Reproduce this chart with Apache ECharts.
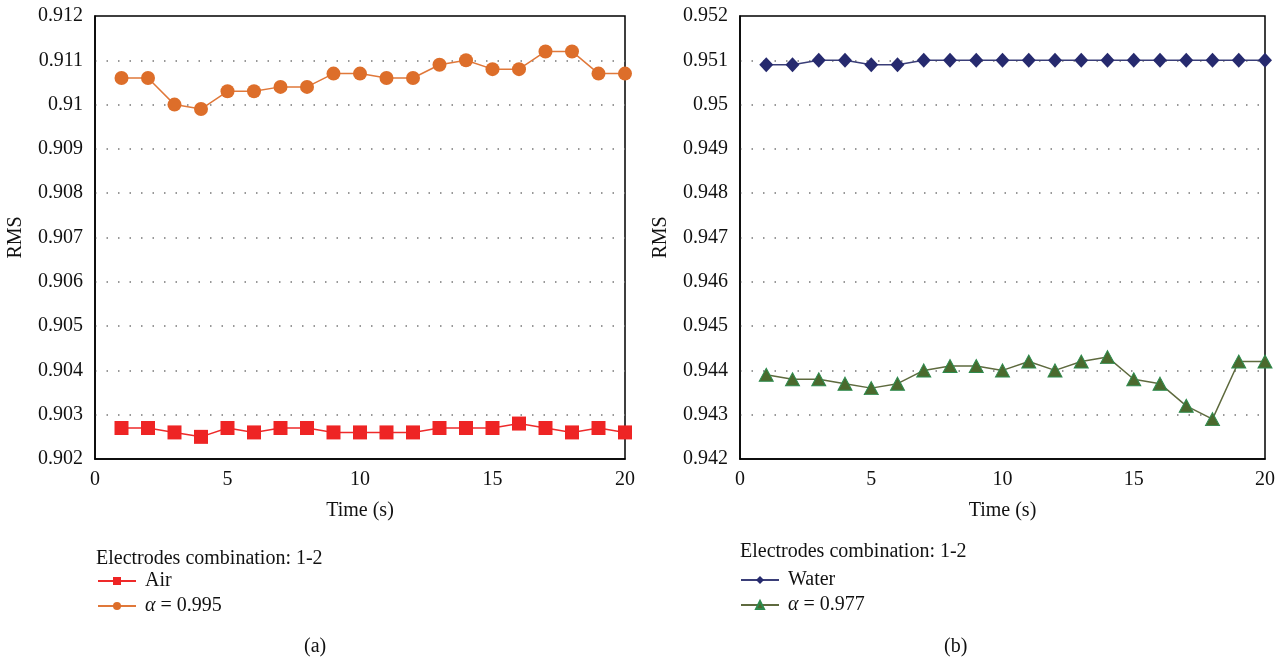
<!DOCTYPE html>
<html>
<head>
<meta charset="utf-8">
<script src="https://cdn.jsdelivr.net/npm/echarts@6/dist/echarts.min.js"></script>
<style>html,body{margin:0;padding:0;background:#fff}#c{width:1279px;height:663px}</style>
</head>
<body>
<div id="c"></div>
<script>
const time = [1,2,3,4,5,6,7,8,9,10,11,12,13,14,15,16,17,18,19,20];
const air = [0.9027,0.9027,0.9026,0.9025,0.9027,0.9026,0.9027,0.9027,0.9026,0.9026,0.9026,0.9026,0.9027,0.9027,0.9027,0.9028,0.9027,0.9026,0.9027,0.9026];
const alpha995 = [0.9106,0.9106,0.9100,0.9099,0.9103,0.9103,0.9104,0.9104,0.9107,0.9107,0.9106,0.9106,0.9109,0.9110,0.9108,0.9108,0.9112,0.9112,0.9107,0.9107];
const water = [0.9509,0.9509,0.9510,0.9510,0.9509,0.9509,0.9510,0.9510,0.9510,0.9510,0.9510,0.9510,0.9510,0.9510,0.9510,0.9510,0.9510,0.9510,0.9510,0.9510];
const alpha977 = [0.9439,0.9438,0.9438,0.9437,0.9436,0.9437,0.9440,0.9441,0.9441,0.9440,0.9442,0.9440,0.9442,0.9443,0.9438,0.9437,0.9432,0.9429,0.9442,0.9442];
const yRangeA = [0.902, 0.912];
const yRangeB = [0.942, 0.952];
const xRange = [0, 20];

const FONT = 'Liberation Serif';
const FS = 20;
const pair = (xs, ys) => xs.map((x, i) => [x, ys[i]]);

function xAxis(gi) {
  return {
    type: 'value', gridIndex: gi, min: xRange[0], max: xRange[1], interval: 5,
    name: 'Time (s)', nameLocation: 'middle', nameGap: 42,
    nameTextStyle: {fontFamily: FONT, fontSize: FS, color: '#111'},
    axisLine: {show: true, lineStyle: {color: '#000', width: 1.5}},
    axisTick: {show: false},
    axisLabel: {fontFamily: FONT, fontSize: FS, color: '#111', margin: 11},
    splitLine: {show: false}
  };
}
function yAxis(gi, r) {
  return {
    type: 'value', gridIndex: gi, min: r[0], max: r[1], interval: 0.001,
    name: 'RMS', nameLocation: 'middle', nameGap: 69,
    nameTextStyle: {fontFamily: FONT, fontSize: FS, color: '#111'},
    axisLine: {show: true, lineStyle: {color: '#000', width: 1.5}},
    axisTick: {show: false},
    axisLabel: {fontFamily: FONT, fontSize: FS, color: '#111', margin: 12,
      formatter: v => String(parseFloat(v.toFixed(4)))},
    splitLine: {show: true, showMinLine: false, showMaxLine: false,
      lineStyle: {color: '#777', width: 1.5, type: [1.5, 10]}}
  };
}
const rich = {i: {fontFamily: FONT, fontSize: FS, fontStyle: 'italic', color: '#111'}};
function legendFmt(n) { return n.startsWith('α') ? '{i|α}' + n.slice(1) : n; }
const tStyle = {fontFamily: FONT, fontSize: FS, fontWeight: 'normal', color: '#111'};

const chart = echarts.init(document.getElementById('c'), null, {renderer: 'canvas'});
chart.setOption({
  animation: false,
  backgroundColor: '#fff',
  grid: [
    {left: 95, top: 16, width: 530, height: 443, show: true, borderColor: '#000', borderWidth: 1.5, containLabel: false},
    {left: 740, top: 16, width: 525, height: 443, show: true, borderColor: '#000', borderWidth: 1.5, containLabel: false}
  ],
  xAxis: [xAxis(0), xAxis(1)],
  yAxis: [yAxis(0, yRangeA), yAxis(1, yRangeB)],
  title: [
    {text: 'Electrodes combination: 1-2', left: 96, top: 549, textStyle: tStyle, padding: 0},
    {text: 'Electrodes combination: 1-2', left: 740, top: 542, textStyle: tStyle, padding: 0},
    {text: '(a)', left: 304, top: 637, textStyle: tStyle, padding: 0},
    {text: '(b)', left: 944, top: 637, textStyle: tStyle, padding: 0}
  ],
  legend: [
    {data: ['Air', 'α = 0.995'], orient: 'vertical', left: 97, top: 571, itemGap: 5, itemWidth: 38, itemHeight: 10,
      padding: 0, formatter: legendFmt, textStyle: {fontFamily: FONT, fontSize: FS, color: '#111', rich: rich, padding: [0, 0, 0, 4]}},
    {data: ['Water', 'α = 0.977'], orient: 'vertical', left: 740, top: 570, itemGap: 5, itemWidth: 38, itemHeight: 10,
      padding: 0, formatter: legendFmt, textStyle: {fontFamily: FONT, fontSize: FS, color: '#111', rich: rich, padding: [0, 0, 0, 4]}}
  ],
  series: [
    {name: 'Air', type: 'line', xAxisIndex: 0, yAxisIndex: 0, data: pair(time, air),
      symbol: 'rect', symbolSize: 14, lineStyle: {color: '#EE2A2A', width: 1.5}, itemStyle: {color: '#EE2424'}},
    {name: 'α = 0.995', type: 'line', xAxisIndex: 0, yAxisIndex: 0, data: pair(time, alpha995),
      symbol: 'circle', symbolSize: 14, lineStyle: {color: '#E0783A', width: 1.5}, itemStyle: {color: '#DD6E2A'}},
    {name: 'Water', type: 'line', xAxisIndex: 1, yAxisIndex: 1, data: pair(time, water),
      symbol: 'diamond', symbolSize: [14, 15], lineStyle: {color: '#3A3E78', width: 1.5}, itemStyle: {color: '#262A6E'}},
    {name: 'α = 0.977', type: 'line', xAxisIndex: 1, yAxisIndex: 1, data: pair(time, alpha977),
      symbol: 'triangle', symbolSize: [14, 13], lineStyle: {color: '#5E6A3E', width: 1.5},
      itemStyle: {color: '#4B6A2E', borderColor: '#2E8B4E', borderWidth: 1}}
  ]
});
</script>
</body>
</html>
